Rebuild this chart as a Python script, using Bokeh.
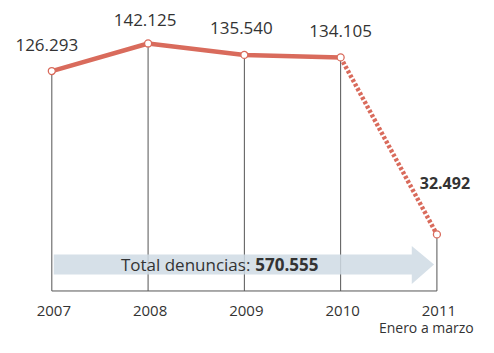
from bokeh.plotting import figure
from bokeh.models import ColumnDataSource, Range1d
from bokeh.core.properties import value
from bokeh.embed import file_html
from bokeh.resources import INLINE

years = [2007, 2008, 2009, 2010, 2011]
denuncias = [126293, 142125, 135540, 134105, 32492]
value_labels = ["126.293", "142.125", "135.540", "134.105", "32.492"]
year_labels = ["2007", "2008", "2009", "2010", "2011"]
sub_label = "Enero a marzo"
total_prefix = "Total denuncias:"
total_value = "570.555"

LINE = "#d96b5c"
TXT = "#333333"
FONT = value("Open Sans")

p = figure(width=478, height=337, output_backend="svg", toolbar_location=None,
           x_range=Range1d(2006.467, 2011.432), y_range=Range1d(-26710, 166800),
           min_border=0, outline_line_color=None)
p.axis.visible = False
p.grid.visible = False
p.background_fill_color = "white"
p.border_fill_color = "white"

# vertical guide lines and baseline
p.segment(x0=years, y0=[0] * 5, x1=years, y1=denuncias, line_color="#555555", line_width=1)
p.segment(x0=[years[0]], y0=[0], x1=[years[-1]], y1=[0], line_color="#555555", line_width=1)

# total arrow (band + head)
band_lo, band_hi = 9460, 21000
head_lo, head_hi = 4010, 25890
xs0, xb, xt = years[0] + 0.02, years[-1] - 0.261, years[-1] - 0.03
p.patch(x=[xs0, xb, xb, xt, xb, xb, xs0],
        y=[band_lo, band_lo, head_lo, (band_lo + band_hi) / 2, head_hi, band_hi, band_hi],
        fill_color="#cfdbe4", fill_alpha=0.85, line_color=None)
mid = (band_lo + band_hi) / 2
p.text(x=[2009], y=[mid], text=[total_prefix], text_font=FONT, text_font_size="17px",
       text_color=TXT, text_align="right", text_baseline="middle", x_offset=6)
p.text(x=[2009], y=[mid], text=[total_value], text_font=FONT, text_font_size="17px",
       text_font_style="bold", text_color=TXT, text_align="left", text_baseline="middle", x_offset=11)

# main line
p.line(years[:4], denuncias[:4], line_color=LINE, line_width=4.5)
p.line(years[3:], denuncias[3:], line_color=LINE, line_width=4.5, line_dash="3 2")
p.scatter(years, denuncias, size=7, fill_color="white", line_color=LINE, line_width=1.3)

# value labels
src = ColumnDataSource(dict(x=years[:4], y=denuncias[:4], t=value_labels[:4],
                            xo=[-5, -3, -3, 0], yo=[-26, -23, -27, -26]))
p.text(x="x", y="y", text="t", x_offset="xo", y_offset="yo", source=src, text_font=FONT,
       text_font_size="17px", text_color=TXT, text_align="center", text_baseline="middle")
p.text(x=[years[4]], y=[denuncias[4]], text=[value_labels[4]], x_offset=8, y_offset=-51,
       text_font=FONT, text_font_size="16px", text_font_style="bold", text_color=TXT,
       text_align="center", text_baseline="middle")

# year labels
p.text(x=years, y=[0] * 5, text=year_labels, y_offset=20, x_offset=2, text_font=FONT,
       text_font_size="15px", text_color=TXT, text_align="center", text_baseline="middle")
p.text(x=[years[4]], y=[0], text=[sub_label], x_offset=-58, y_offset=37, text_font=FONT,
       text_font_size="14px", text_color=TXT, text_align="left", text_baseline="middle")

open("out.html", "w").write(file_html(p, INLINE))
